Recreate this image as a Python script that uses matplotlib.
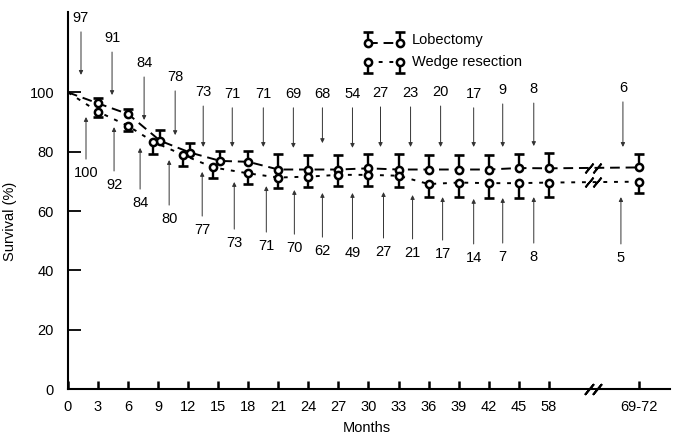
import numpy as np
import matplotlib.pyplot as plt

plt.rcParams['font.family'] = ['Liberation Sans', 'DejaVu Sans']

# tick labels of the broken month axis
x_labels = ['0', '3', '6', '9', '12', '15', '18', '21', '24', '27', '30',
            '33', '36', '39', '42', '45', '58', '69-72']

# survival (%)
lob_surv = [100, 96.3, 92.7, 83.7, 79.7, 76.9, 76.6, 74.0, 74.0, 74.0, 74.4,
            74.0, 74.0, 74.0, 74.0, 74.5, 74.4, 74.7]
wedge_surv = [100, 93.5, 88.7, 83.4, 78.9, 74.7, 72.7, 71.3, 71.6, 72.2, 72.2,
              71.9, 69.1, 69.6, 69.4, 69.4, 69.6, 69.9]
# one-sided error bars (lobectomy up, wedge down)
lob_err = [0, 1.7, 1.7, 3.6, 3.4, 3.4, 3.6, 5.2, 4.8, 4.8, 4.8, 5.2, 4.8,
           4.8, 4.8, 4.8, 5.1, 4.5]
wedge_err = [0, 1.7, 1.6, 4.1, 3.6, 3.4, 3.6, 3.7, 3.4, 3.7, 3.7, 3.7, 4.5,
             4.9, 4.9, 4.9, 4.9, 3.9]

# patients at risk
lob_n = [97, 91, 84, 78, 73, 71, 71, 69, 68, 54, 27, 23, 20, 17, 9, 8, 6]
wedge_n = [100, 92, 84, 80, 77, 73, 71, 70, 62, 49, 27, 21, 17, 14, 7, 8, 5]

# layout of the at-risk labels (axis units)
top_x = [1.3, 4.4, 7.6, 10.7, 13.5, 16.4, 19.5, 22.5, 25.4, 28.4, 31.2, 34.2,
         37.2, 40.5, 43.4, 46.5, 55.4]
top_text_y = [125.1, 118.3, 109.9, 105.2, 100.1, 99.5, 99.5, 99.5, 99.5, 99.5,
              99.8, 99.8, 100.1, 99.5, 100.8, 101.1, 101.5]
top_tip_y = [105.9, 99.1, 90.7, 85.6, 81.6, 81.6, 81.6, 81.3, 82.9, 81.3,
             81.6, 81.6, 81.6, 81.6, 81.6, 81.9, 81.6]
bot_x = [1.8, 4.6, 7.2, 10.1, 13.4, 16.6, 19.8, 22.6, 25.4, 28.4, 31.5, 34.4,
         37.4, 40.5, 43.4, 46.5, 55.2]
bot_text_y = [72.8, 68.8, 62.7, 57.3, 53.6, 49.2, 48.2, 47.5, 46.5, 45.9,
              46.2, 45.9, 45.5, 44.2, 44.5, 44.5, 44.2]
bot_tip_y = [91.7, 88.3, 81.3, 77.2, 73.2, 69.8, 68.4, 67.1, 66.1, 66.1,
             66.4, 65.4, 64.7, 64.1, 64.4, 64.7, 64.7]

# positions on the broken axis: 0..45 linear, then 58 and 69-72 after break
x_pos = np.array(list(range(0, 48, 3)) + [48, 57], dtype=float)
break_x = 52.4

lob_surv = np.array(lob_surv)
wedge_surv = np.array(wedge_surv)

# the 9, 12 and 15 month points are drawn side by side
dodged = np.isin(x_labels, ['9', '12', '15'])
lob_x = x_pos + np.where(dodged, 0.2, 0)
wedge_x = x_pos + np.where(dodged, -0.5, 0)

fig = plt.figure(figsize=(6.75, 4.4), dpi=100)
ax = fig.add_axes([0.1007, 0.1159, 0.8919, 0.8568])


def draw_series(xs, vals, errs, dashes, sign):
    ax.plot(xs, vals, color='k', lw=1.4, dashes=dashes, zorder=2)
    ends = vals + sign * np.array(errs)
    ax.vlines(xs[1:], vals[1:], ends[1:], color='k', lw=1.7, zorder=3)
    ax.plot(xs[1:], ends[1:], ls='none', marker='_', ms=7.5, mew=1.9,
            color='k', zorder=3)
    ax.plot(xs[1:], vals[1:], ls='none', marker='o', ms=5.2, mew=1.8,
            mfc='white', mec='k', zorder=4)
    # break marks on the line
    yb = np.interp(break_x, x_pos[-2:], vals[-2:])
    ax.plot([break_x - 0.4, break_x + 0.4], [yb, yb], ls='none',
            marker=(2, 2, -40), ms=9, mew=1.3, color='k', zorder=5)


draw_series(lob_x, lob_surv, lob_err, (5, 3), 1)
draw_series(wedge_x, wedge_surv, wedge_err, (2, 3.5), -1)

# at-risk numbers with arrows
arrow = dict(arrowstyle='-|>', lw=0.7, color='#333333', mutation_scale=6,
             shrinkA=3, shrinkB=0)
for n, x, ty, tip in zip(lob_n, top_x, top_text_y, top_tip_y):
    ax.annotate(str(n), xy=(x, tip), xytext=(x, ty), ha='center', va='center',
                fontsize=10.5, arrowprops=arrow)
for n, x, ty, tip in zip(wedge_n, bot_x, bot_text_y, bot_tip_y):
    ax.annotate(str(n), xy=(x, tip), xytext=(x, ty), ha='center', va='center',
                fontsize=10.5, arrowprops=arrow)

# hand-drawn legend
leg_x = [30.0, 33.1]
ax.plot(leg_x, [116.7, 116.7], color='k', lw=1.4, dashes=(5, 3))
ax.vlines(leg_x, 116.7, 120.4, color='k', lw=1.7)
ax.plot(leg_x, [120.4, 120.4], ls='none', marker='_', ms=7.5, mew=1.9, color='k')
ax.plot(leg_x, [116.7, 116.7], ls='none', marker='o', ms=5.2, mew=1.8,
        mfc='white', mec='k')
ax.plot(leg_x, [110.2, 110.2], color='k', lw=1.4, dashes=(2, 3.5))
ax.vlines(leg_x, 110.2, 106.5, color='k', lw=1.7)
ax.plot(leg_x, [106.5, 106.5], ls='none', marker='_', ms=7.5, mew=1.9, color='k')
ax.plot(leg_x, [110.2, 110.2], ls='none', marker='o', ms=5.2, mew=1.8,
        mfc='white', mec='k')
ax.text(34.3, 117.8, 'Lobectomy', fontsize=10.5, va='center')
ax.text(34.3, 110.2, 'Wedge resection', fontsize=10.5, va='center')

# axis break on the month axis
ax.plot([break_x - 0.4, break_x + 0.4], [0, 0], ls='none', marker=(2, 2, -40),
        ms=10, mew=1.4, color='k', clip_on=False, zorder=5)

ax.set_xlim(0, 60.1)
ax.set_ylim(0, 127.1)
ax.set_xticks(x_pos)
ax.set_xticklabels(x_labels)
ax.set_yticks([0, 20, 40, 60, 80, 100])
ax.tick_params(axis='x', direction='in', length=6, width=1.8, pad=8,
               labelsize=10.5)
ax.tick_params(axis='y', direction='in', length=9.5, width=1.3, pad=10,
               labelsize=10.5)
for side in ['top', 'right']:
    ax.spines[side].set_visible(False)
for side in ['left', 'bottom']:
    ax.spines[side].set_linewidth(1.5)

fig.text(10 / 675, 1 - 221 / 440, 'Survival (%)', rotation=90,
         ha='center', va='center', fontsize=10.5)
fig.text(367 / 675, 1 - 428 / 440, 'Months', ha='center', va='center',
         fontsize=10.5)

fig.savefig('out.png', dpi=100)
